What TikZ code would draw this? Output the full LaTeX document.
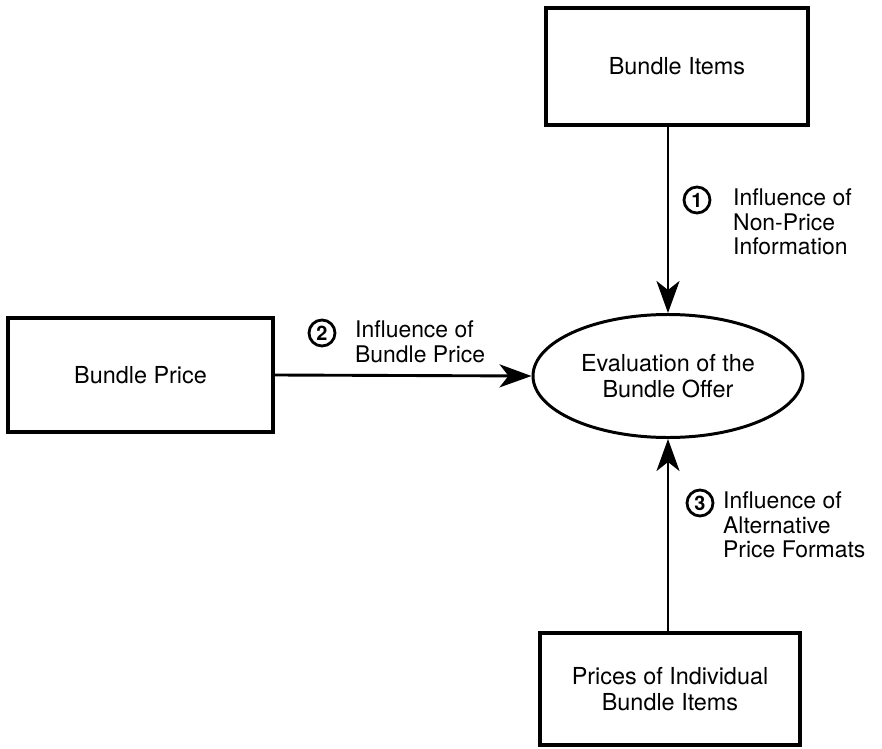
\documentclass[tikz,border=0pt]{standalone}
\usepackage{fontspec}
\setmainfont{TeX Gyre Heros}
\usetikzlibrary{arrows.meta,shapes.geometric}

\tikzset{
  block/.style={draw, line width=3.6pt, rectangle, align=center, inner sep=0pt},
  target/.style={draw, line width=3pt, ellipse, align=center, inner sep=0pt,
    minimum width=270bp, minimum height=123bp},
  flow/.style={line width=2.9pt, -{Stealth[length=32bp, width=23bp, inset=9bp]}},
  stepnum/.style={draw, circle, line width=2.8pt, minimum size=26bp, inner sep=0pt,
    font=\fontsize{20}{20}\selectfont\bfseries},
  note/.style={anchor=north west, align=left, inner sep=0pt,
    font=\fontsize{23}{24.5}\selectfont},
}

\begin{document}
\begin{tikzpicture}[x=1bp, y=-1bp, font=\fontsize{23.5}{26.5}\selectfont]
  \useasboundingbox (0,0) rectangle (882,749);

  % sources and the central evaluation
  \node[block, minimum width=262bp, minimum height=117bp] (items) at (677,66.5) {Bundle Items};
  \node[block, minimum width=265bp, minimum height=114bp] (price) at (140.5,375) {Bundle Price};
  \node[block, minimum width=260bp, minimum height=112bp] (single) at (670,689)
    {Prices of Individual\\Bundle Items};
  \node[target] (eval) at (668,376) {Evaluation of the\\Bundle Offer};

  % influences
  \draw[flow] (items.south -| eval.north) -- (eval.north);
  \draw[flow] (price.east) -- (eval.west);
  \draw[flow] (single.north -| eval.south) -- (eval.south);

  % numbered influence labels
  \node[stepnum] (n1) at (697,200) {1};
  \node[note] (t1) at (733,189) {Influence of\\Non-Price\\Information};
  \node[stepnum] (n2) at (322,333) {2};
  \node[note] (t2) at (355,321) {Influence of\\Bundle Price};
  \node[stepnum] (n3) at (700,503) {3};
  \node[note] (t3) at (723,492) {Influence of\\Alternative\\Price Formats};
\end{tikzpicture}
\end{document}
